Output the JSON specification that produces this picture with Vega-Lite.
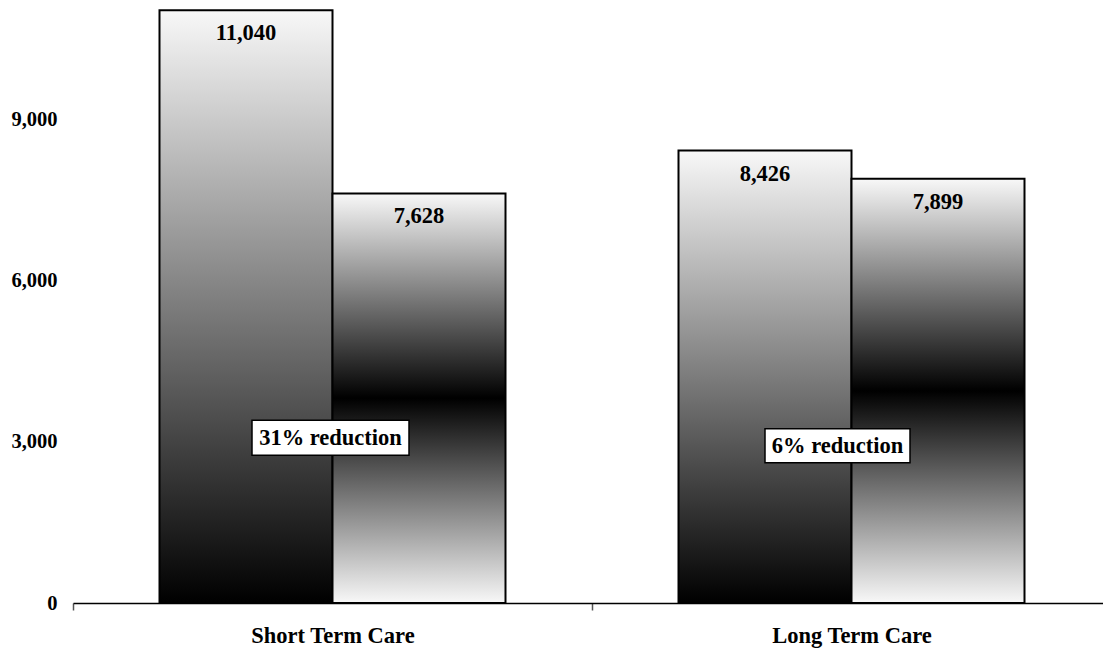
{
  "$schema": "https://vega.github.io/schema/vega-lite/v6.json",
  "width": 1030,
  "height": 603,
  "autosize": {"type": "none"},
  "padding": {"left": 73, "top": 0, "right": 0, "bottom": 46},
  "background": "white",
  "config": {
    "view": {"stroke": null},
    "font": "Liberation Serif",
    "text": {"font": "Liberation Serif", "fontWeight": "bold", "fontSize": 22.5, "color": "black"}
  },
  "datasets": {
    "bars": [
      {"care": "Short Term Care", "period": "Baseline", "patients": 11040},
      {"care": "Short Term Care", "period": "Follow-up", "patients": 7628},
      {"care": "Long Term Care", "period": "Baseline", "patients": 8426},
      {"care": "Long Term Care", "period": "Follow-up", "patients": 7899}
    ],
    "notes": [
      {"care": "Short Term Care", "note": "31% reduction", "at": 3078},
      {"care": "Long Term Care", "note": "6% reduction", "at": 2930}
    ]
  },
  "encoding": {
    "x": {
      "field": "care",
      "type": "nominal",
      "sort": ["Short Term Care", "Long Term Care"],
      "scale": {"range": [0, 1038], "paddingInner": 0, "paddingOuter": 0},
      "axis": {
        "title": null,
        "tickBand": "extent",
        "labelAngle": 0,
        "domainColor": "black",
        "domainWidth": 1.5,
        "tickColor": "#555555",
        "tickWidth": 1.5,
        "tickSize": 7,
        "labelFont": "Liberation Serif",
        "labelFontSize": 22.5,
        "labelFontWeight": "bold",
        "labelColor": "black",
        "labelPadding": 14
      }
    }
  },
  "layer": [
    {
      "data": {"name": "bars"},
      "mark": {"type": "bar", "stroke": "black", "strokeWidth": 2},
      "encoding": {
        "xOffset": {
          "field": "period",
          "type": "nominal",
          "sort": ["Baseline", "Follow-up"],
          "scale": {"paddingInner": 0, "paddingOuter": 0.5}
        },
        "y": {
          "field": "patients",
          "type": "quantitative",
          "scale": {"domain": [0, 11230], "nice": false},
          "axis": {
            "title": null,
            "values": [0, 3000, 6000, 9000],
            "format": ",d",
            "domain": false,
            "ticks": false,
            "grid": false,
            "labelFont": "Liberation Serif",
            "labelFontSize": 20.5,
            "labelFontWeight": "bold",
            "labelColor": "black",
            "labelPadding": 16
          }
        },
        "fill": {
          "condition": {
            "test": "datum.period === 'Baseline'",
            "value": {
              "gradient": "linear",
              "x1": 0, "y1": 0, "x2": 0, "y2": 1,
              "stops": [
                {"offset": 0, "color": "#f8f8f8"},
                {"offset": 1, "color": "#000000"}
              ]
            }
          },
          "value": {
            "gradient": "linear",
            "x1": 0, "y1": 0, "x2": 0, "y2": 1,
            "stops": [
              {"offset": 0, "color": "#f8f8f8"},
              {"offset": 0.5, "color": "#000000"},
              {"offset": 1, "color": "#f8f8f8"}
            ]
          }
        }
      }
    },
    {
      "data": {"name": "bars"},
      "mark": {"type": "text", "baseline": "middle", "dy": 23},
      "encoding": {
        "xOffset": {"field": "period", "type": "nominal", "sort": ["Baseline", "Follow-up"]},
        "y": {"field": "patients", "type": "quantitative"},
        "text": {"field": "patients", "type": "quantitative", "format": ","}
      }
    },
    {
      "data": {"name": "notes"},
      "transform": [{"filter": "datum.care === 'Short Term Care'"}],
      "layer": [
        {
          "mark": {"type": "rect", "width": 157, "height": 35, "fill": "white", "stroke": "black", "strokeWidth": 1.5, "xOffset": -2},
          "encoding": {"y": {"field": "at", "type": "quantitative"}}
        },
        {
          "mark": {"type": "text", "baseline": "middle", "xOffset": -2},
          "encoding": {"y": {"field": "at", "type": "quantitative"}, "text": {"field": "note"}}
        }
      ]
    },
    {
      "data": {"name": "notes"},
      "transform": [{"filter": "datum.care === 'Long Term Care'"}],
      "layer": [
        {
          "mark": {"type": "rect", "width": 145, "height": 34, "fill": "white", "stroke": "black", "strokeWidth": 1.5, "xOffset": -14},
          "encoding": {"y": {"field": "at", "type": "quantitative"}}
        },
        {
          "mark": {"type": "text", "baseline": "middle", "xOffset": -14},
          "encoding": {"y": {"field": "at", "type": "quantitative"}, "text": {"field": "note"}}
        }
      ]
    }
  ]
}
